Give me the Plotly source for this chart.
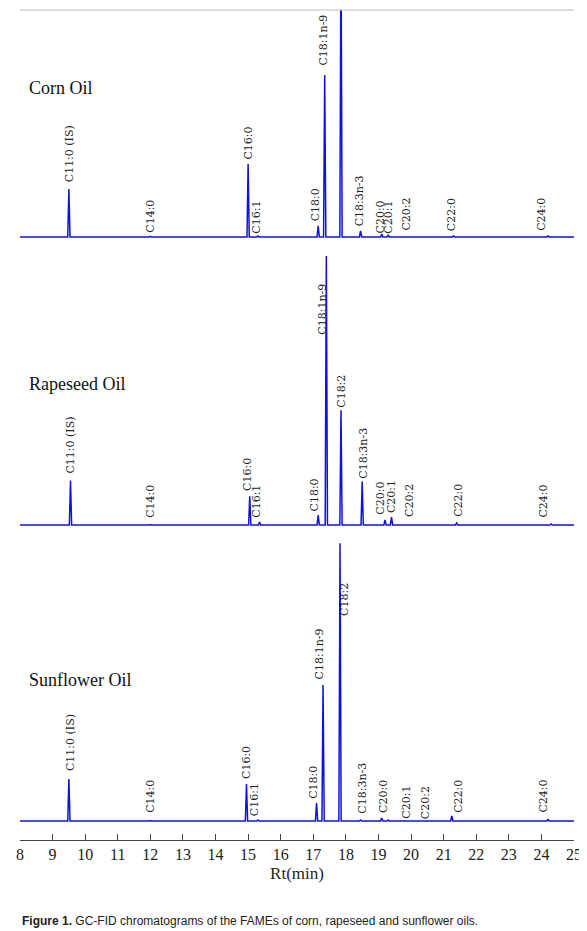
import plotly.graph_objects as go

# retention times (min) and peak heights (arbitrary units) per oil
corn_rt = [9.5, 12.0, 15.0, 15.3, 17.15, 17.35, 17.85, 18.45, 19.1, 19.3, 21.3, 24.2]
corn_h = [48, 0.5, 73, 1, 11, 162, 300, 6, 3, 2, 1, 1]
rape_rt = [9.55, 12.0, 15.05, 15.35, 17.15, 17.4, 17.85, 18.5, 19.2, 19.4, 21.4, 24.3]
rape_h = [45, 0.5, 29, 3, 10, 272, 116, 44, 5, 8, 2, 1]
sun_rt = [9.5, 12.0, 14.95, 15.3, 17.1, 17.3, 17.82, 18.45, 19.1, 19.3, 21.25, 24.2]
sun_h = [42, 0.5, 37, 1, 18, 136, 278, 1, 3, 1, 5, 2]

corn_labels = ["C11:0 (IS)", "C14:0", "C16:0", "C16:1", "C18:0", "C18:1n-9", "C18:3n-3",
               "C20:0", "C20:1", "C20:2", "C22:0", "C24:0"]
corn_lab_rt = [9.53, 12.0, 15.0, 15.25, 17.05, 17.3, 18.4, 19.05, 19.3, 19.85, 21.25, 24.0]
corn_lab_y = [53, 2, 75, 1, 14, 169, 9, 1, 1, 4, 4, 4]
rape_labels = ["C11:0 (IS)", "C14:0", "C16:0", "C16:1", "C18:0", "C18:1n-9", "C18:2",
               "C18:3n-3", "C20:0", "C20:1", "C20:2", "C22:0", "C24:0"]
rape_lab_rt = [9.55, 12.0, 15.0, 15.25, 17.05, 17.3, 17.88, 18.55, 19.05, 19.4, 19.95, 21.45, 24.05]
rape_lab_y = [50, 5, 32, 5, 12, 190, 117, 45, 8, 10, 6, 6, 5]
sun_labels = ["C11:0 (IS)", "C14:0", "C16:0", "C16:1", "C18:0", "C18:1n-9", "C18:2",
              "C18:3n-3", "C20:0", "C20:1", "C20:2", "C22:0", "C24:0"]
sun_lab_rt = [9.55, 12.0, 14.95, 15.2, 17.0, 17.2, 17.95, 18.5, 19.15, 19.85, 20.45, 21.45, 24.05]
sun_lab_y = [48, 6, 40, 3, 20, 140, 203, 5, 6, 0, 0, 6, 6]

oil_names = ["Corn Oil", "Rapeseed Oil", "Sunflower Oil"]

BLUE = "#1010e0"
SERIF = "DejaVu Serif"
TIMES = "Liberation Serif"
HALF_W = 0.035


def trace_points(rts, hs):
    xs, ys = [8.0], [0]
    for rt, h in sorted(zip(rts, hs)):
        xs += [rt - HALF_W, rt, rt + HALF_W]
        ys += [0, h, 0]
    xs.append(25.0)
    ys.append(0)
    return xs, ys


fig = go.Figure()
panels = [
    (corn_rt, corn_h, corn_labels, corn_lab_rt, corn_lab_y, "y", 149),
    (rape_rt, rape_h, rape_labels, rape_lab_rt, rape_lab_y, "y2", 143),
    (sun_rt, sun_h, sun_labels, sun_lab_rt, sun_lab_y, "y3", 141),
]
for i, (rts, hs, labs, lrt, ly, yax, title_y) in enumerate(panels):
    xs, ys = trace_points(rts, hs)
    fig.add_trace(go.Scatter(x=xs, y=ys, mode="lines", yaxis=yax,
                             line=dict(color=BLUE, width=1.5), cliponaxis=True))
    for lab, x, y in zip(labs, lrt, ly):
        fig.add_annotation(x=x, y=y, xref="x", yref=yax, text=lab, textangle=-90,
                           showarrow=False, yanchor="bottom", xanchor="center",
                           font=dict(family=SERIF, size=11, color="#222"))
    fig.add_annotation(x=8.2, y=title_y, xref="x", yref=yax, text=oil_names[i],
                       showarrow=False, xanchor="left", yanchor="middle",
                       font=dict(family=TIMES, size=18, color="#111"))

fig.add_annotation(x=0.0, y=-0.098, xref="paper", yref="paper", xanchor="left",
                   yanchor="middle", showarrow=False,
                   text="<b>Figure 1.</b> GC-FID chromatograms of the FAMEs of corn, rapeseed and sunflower oils.",
                   font=dict(family="Liberation Sans", size=12, color="#222"))

hidden = dict(visible=False, fixedrange=True)
fig.update_layout(
    width=587, height=931,
    margin=dict(l=12, r=21, t=2, b=99, autoexpand=False),
    paper_bgcolor="white", plot_bgcolor="white",
    showlegend=False,
    xaxis=dict(range=[8, 25], anchor="y3", dtick=1, ticks="inside", ticklen=6,
               showline=True, linecolor="#444", showgrid=False, zeroline=False,
               tickfont=dict(family=TIMES, size=16, color="#222"),
               title=dict(text="Rt(min)", font=dict(family=TIMES, size=17, color="#222"),
                          standoff=4)),
    yaxis=dict(domain=[0.723, 1.0], range=[-3, 227], **hidden),
    yaxis2=dict(domain=[0.376, 0.713], range=[-3, 280], **hidden),
    yaxis3=dict(domain=[0.0, 0.36], range=[-19, 280], **hidden),
    shapes=[dict(type="line", xref="paper", yref="paper", x0=0, x1=1, y0=1, y1=1,
                 line=dict(color="#bbb", width=1))],
)

fig.write_html("out.html")
